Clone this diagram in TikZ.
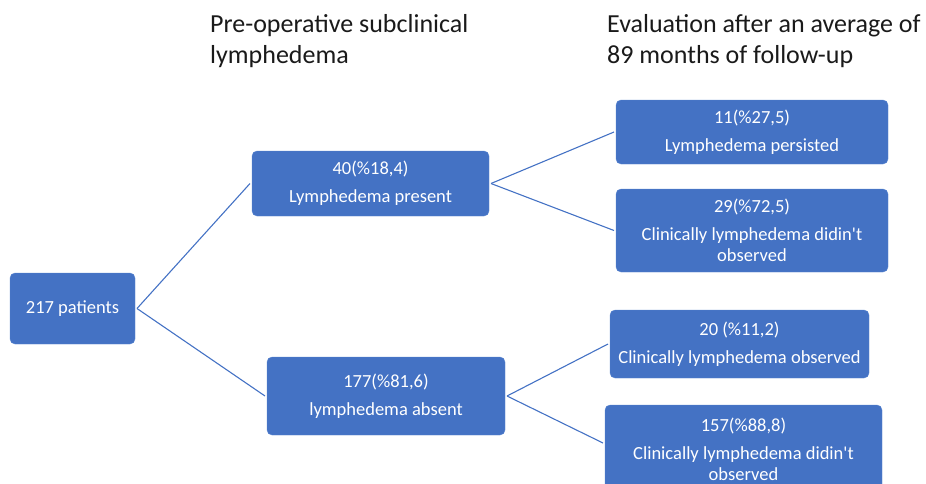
\documentclass[tikz,border=0pt]{standalone}
\usepackage{fontspec}
\setmainfont{Carlito}[Ligatures=TeXOff]
\usetikzlibrary{positioning}
\definecolor{boxblue}{HTML}{4472C4}
\definecolor{rimblue}{HTML}{5A86D0}
\definecolor{inkgrey}{HTML}{1A1A1A}
\tikzset{
    box/.style = {
        draw = rimblue,
        fill = boxblue,
        text = white,
        rounded corners = 5pt,
        align = center,
        inner sep = 2pt,
        outer sep = 2pt,
        font = \fontsize{18.5}{21}\selectfont
    },
    heading/.style = {
        anchor = base west,
        align = left,
        inner sep = 0pt,
        text = inkgrey,
        font = \fontsize{26}{31}\selectfont
    },
    link/.style = {
        draw = boxblue,
        line width = 1.1pt
    }
}

\begin{document}
\begin{tikzpicture}[
                        x = 1pt,
                        y = -1pt
                    ]
                        \useasboundingbox (0,0) rectangle (926,483);

                        % headings, placed by the baseline of their last line
                        \node[heading] (head1) at (210,63) {Pre-operative subclinical\\lymphedema};
                        \node[heading] (head2) at (607,63) {Evaluation after an average of\\89 months of follow-up};

                        \node[box, minimum width = 125pt, minimum height = 71pt] (pat) at (72.5,308.5) {217 patients};
                        \node[box, minimum width = 237pt, minimum height = 65pt] (pres) at (370.5,183.5) {40(\%18,4)\\[7pt]Lymphedema present};
                        \node[box, minimum width = 238pt, minimum height = 78pt] (abs) at (386,396) {177(\%81,6)\\[7pt]lymphedema absent};
                        \node[box, minimum width = 272pt, minimum height = 64pt] (pers) at (752,132) {11(\%27,5)\\[7pt]Lymphedema persisted};
                        \node[box, minimum width = 272pt, minimum height = 83pt] (nobs1) at (752,230.5) {29(\%72,5)\\[7pt]Clinically lymphedema didin't\\observed};
                        \node[box, minimum width = 259pt, minimum height = 68pt] (obs) at (739.5,344) {20 (\%11,2)\\[7pt]Clinically lymphedema observed};
                        \node[box, minimum width = 277pt, minimum height = 88pt] (nobs2) at (743.5,449) {157(\%88,8)\\[7pt]Clinically lymphedema didin't\\observed};

                        \path[link] (pat.east) -- (pres.west);
                        \path[link] (pat.east) -- (abs.west);
                        \path[link] (pres.east) -- (pers.west);
                        \path[link] (pres.east) -- (nobs1.west);
                        \path[link] (abs.east) -- (obs.west);
                        \path[link] (abs.east) -- ([yshift=6pt]nobs2.west);
                    \end{tikzpicture}
\end{document}
